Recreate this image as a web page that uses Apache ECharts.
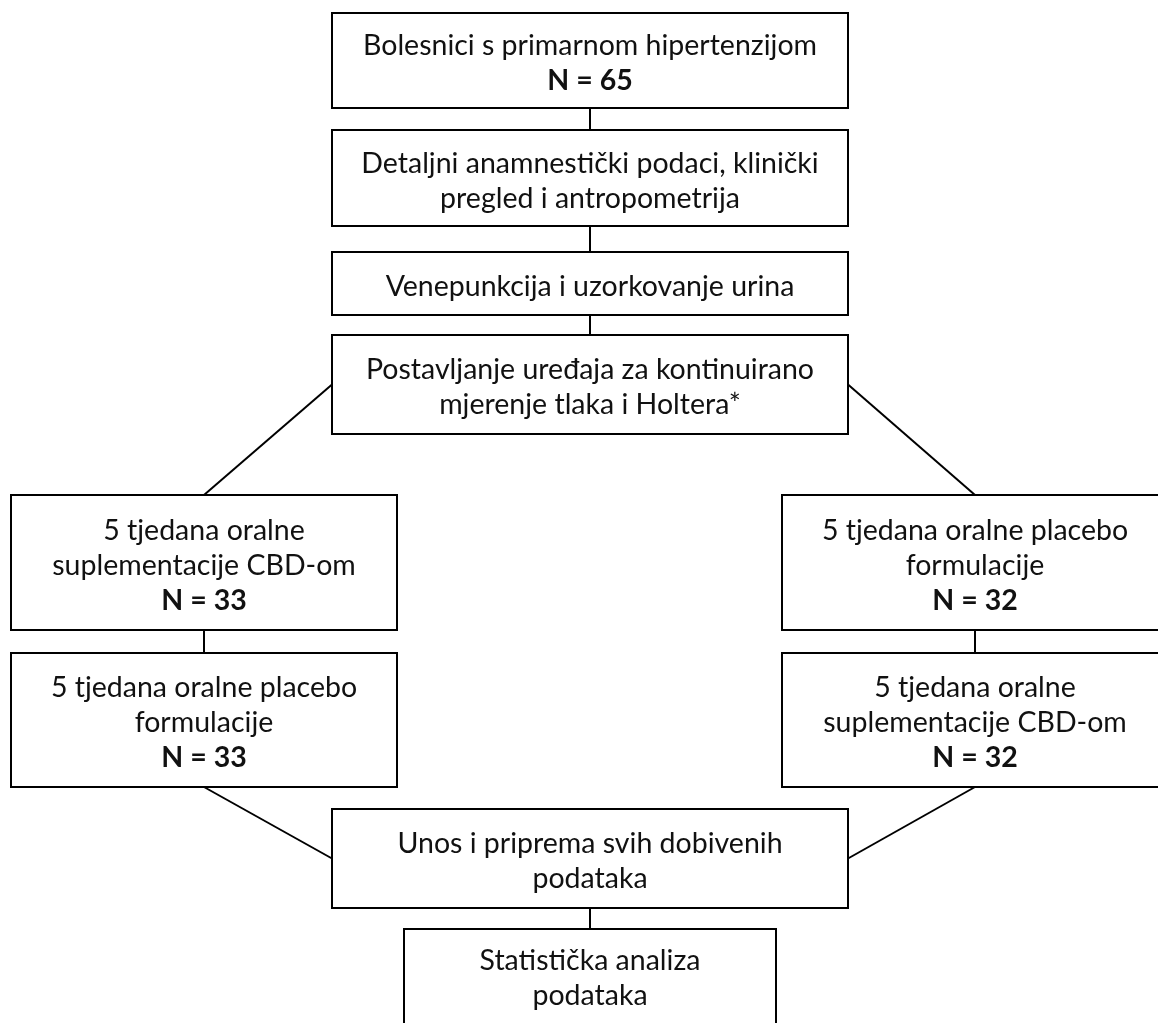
<!DOCTYPE html>
<html>
<head>
<meta charset="utf-8">
<script src="https://cdn.jsdelivr.net/npm/echarts@6/dist/echarts.min.js"></script>
<style>
html,body{margin:0;padding:0;background:#fff;}
#chart{width:1158px;height:1023px;}
</style>
</head>
<body>
<div id="chart"></div>
<script>
// ---- content ----
const boxLines = [
  ['Bolesnici s primarnom hipertenzijom'],
  ['Detaljni anamnestički podaci, klinički', 'pregled i antropometrija'],
  ['Venepunkcija i uzorkovanje urina'],
  ['Postavljanje uređaja za kontinuirano', 'mjerenje tlaka i Holtera*'],
  ['5 tjedana oralne', 'suplementacije CBD-om'],
  ['5 tjedana oralne placebo', 'formulacije'],
  ['5 tjedana oralne placebo', 'formulacije'],
  ['5 tjedana oralne', 'suplementacije CBD-om'],
  ['Unos i priprema svih dobivenih', 'podataka'],
  ['Statistička analiza', 'podataka']
];
const boxCounts = ['N = 65', '', '', '', 'N = 33', 'N = 32', 'N = 33', 'N = 32', '', ''];

// ---- layout (chart units = pixels) : [left, top, right, bottom] ----
const boxLayout = [
  [332, 13, 848, 108],
  [332, 130, 848, 226],
  [332, 252, 848, 315],
  [332, 335, 848, 434],
  [11, 495, 397, 630],
  [782, 495, 1168, 630],
  [11, 653, 397, 787],
  [782, 653, 1168, 787],
  [332, 809, 848, 908],
  [404, 929, 776, 1040]
];
// connectors: [fromBox, fromSide, toBox, toSide]
const links = [
  [0, 'bottom', 1, 'top'],
  [1, 'bottom', 2, 'top'],
  [2, 'bottom', 3, 'top'],
  [3, 'left', 4, 'top'],
  [3, 'right', 5, 'top'],
  [4, 'bottom', 6, 'top'],
  [5, 'bottom', 7, 'top'],
  [6, 'bottom', 8, 'left'],
  [7, 'bottom', 8, 'right'],
  [8, 'bottom', 9, 'top']
];

function anchor(b, side) {
  const [l, t, r, bt] = boxLayout[b];
  const cx = (l + r) / 2, cy = (t + bt) / 2;
  if (side === 'top') return [cx, t];
  if (side === 'bottom') return [cx, bt];
  if (side === 'left') return [l, cy];
  return [r, cy];
}

const boxData = boxLayout.map((b, i) => [b[0], b[1], b[2], b[3], i]);
const linkData = links.map(k => {
  const a = anchor(k[0], k[1]), c = anchor(k[2], k[3]);
  return [a[0], a[1], c[0], c[1]];
});

const FONT = 'Lato, "Open Sans", sans-serif';
const FS = 28.5;
const chart = echarts.init(document.getElementById('chart'), null, {renderer: 'canvas'});
chart.setOption({
  animation: false,
  backgroundColor: '#fff',
  grid: {left: 0, right: 0, top: 0, bottom: 0},
  xAxis: {type: 'value', min: 0, max: 1158, show: false},
  yAxis: {type: 'value', min: 0, max: 1023, inverse: true, show: false},
  series: [
    {
      type: 'custom',
      coordinateSystem: 'cartesian2d',
      data: linkData,
      encode: {x: [0, 2], y: [1, 3]},
      z: 1,
      renderItem: function (params, api) {
        const p1 = api.coord([api.value(0), api.value(1)]);
        const p2 = api.coord([api.value(2), api.value(3)]);
        return {
          type: 'line',
          shape: {x1: p1[0], y1: p1[1], x2: p2[0], y2: p2[1]},
          style: {stroke: '#000', lineWidth: 2}
        };
      }
    },
    {
      type: 'custom',
      coordinateSystem: 'cartesian2d',
      data: boxData,
      encode: {x: [0, 2], y: [1, 3]},
      z: 2,
      renderItem: function (params, api) {
        const p1 = api.coord([api.value(0), api.value(1)]);
        const p2 = api.coord([api.value(2), api.value(3)]);
        const idx = api.value(4);
        let txt = boxLines[idx].map(s => '{n|' + s + '}').join('\n');
        if (boxCounts[idx]) txt += '\n{b|' + boxCounts[idx] + '}';
        const bottomVisible = Math.min(p2[1], params.coordSys.y + params.coordSys.height);
        const cy = idx === 9 ? (p1[1] + bottomVisible) / 2 + 2 : (p1[1] + p2[1]) / 2 + 3;
        return {
          type: 'group',
          children: [
            {
              type: 'rect',
              shape: {x: p1[0], y: p1[1], width: p2[0] - p1[0], height: p2[1] - p1[1]},
              style: {fill: '#fff', stroke: '#000', lineWidth: 2}
            },
            {
              type: 'text',
              style: {
                text: txt,
                x: (p1[0] + p2[0]) / 2,
                y: cy,
                align: 'center',
                verticalAlign: 'middle',
                fontFamily: FONT,
                rich: {
                  n: {fontFamily: FONT, fontSize: FS, lineHeight: 35, fill: '#111', align: 'center'},
                  b: {fontFamily: FONT, fontSize: FS, fontWeight: 'bold', lineHeight: 35, fill: '#111', align: 'center'}
                }
              }
            }
          ]
        };
      }
    }
  ]
});
</script>
</body>
</html>
